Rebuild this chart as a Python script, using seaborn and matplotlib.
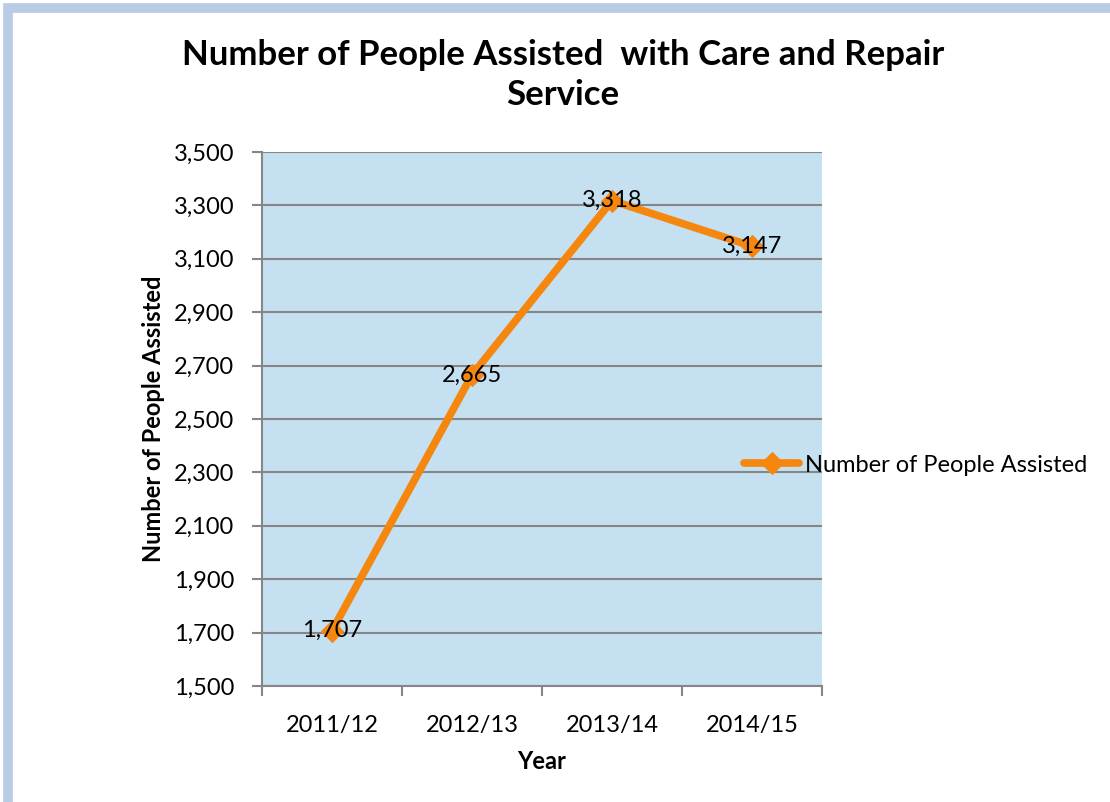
import matplotlib
matplotlib.use("Agg")
import matplotlib.pyplot as plt
import matplotlib.patches as patches
from matplotlib.ticker import FixedLocator, FuncFormatter
import seaborn as sns
import pandas as pd

years = ["2011/12", "2012/13", "2013/14", "2014/15"]
people = [1707, 2665, 3318, 3147]
series_name = "Number of People Assisted"
title = "Number of People Assisted  with Care and Repair\nService"
y_ticks = list(range(1500, 3501, 200))

sns.set_theme(style="white")
plt.rcParams["font.family"] = ["Lato", "DejaVu Sans"]
plt.rcParams["text.color"] = "black"
plt.rcParams["axes.labelcolor"] = "black"

df = pd.DataFrame({"Year": years, series_name: people})

fig = plt.figure(figsize=(11.10, 8.02), dpi=100)
ax = fig.add_axes([262/1110, 1-686/802, 560/1110, 534/802])
ax.set_facecolor("#C5E0F1")

orange = "#F5860E"
sns.lineplot(data=df, x="Year", y=series_name, ax=ax, color=orange, lw=5.5,
             marker="D", markersize=11, markeredgecolor=orange,
             label=series_name, zorder=3)

ax.set_xlim(-0.5, 3.5)
ax.set_ylim(1500, 3500)
ax.yaxis.set_major_locator(FixedLocator(y_ticks))
ax.yaxis.set_major_formatter(FuncFormatter(lambda v, p: f"{int(v):,}"))
ax.grid(axis="y", color="#868686", lw=1.5, zorder=1)
ax.set_axisbelow(True)

for s in ["top", "right"]:
    ax.spines[s].set_visible(False)
for s in ["left", "bottom"]:
    ax.spines[s].set_color("#868686")
    ax.spines[s].set_linewidth(1.5)

fs = 17
ax.set_xticks(range(len(years)))
ax.set_xticklabels(years)
ax.set_xticks([-0.5, 0.5, 1.5, 2.5, 3.5], minor=True)
ax.tick_params(axis="x", which="major", length=0, pad=21, labelsize=fs, labelcolor="black")
ax.tick_params(axis="x", which="minor", length=7, width=1.5, color="#868686", direction="out", bottom=True)
ax.tick_params(axis="y", which="major", length=7, width=1.5, color="#868686", direction="out",
               left=True, pad=13, labelsize=fs, labelcolor="black")

for i, v in enumerate(people):
    ax.text(i, v, f"{v:,}", ha="center", va="center", fontsize=fs, color="black", zorder=4)

ax.set_xlabel("Year", fontsize=fs, fontweight="bold", labelpad=10)
ax.set_ylabel(series_name, fontsize=fs, fontweight="bold", labelpad=6)

fig.text(563/1110, 1-75/802, title, ha="center", va="center", fontsize=25,
         fontweight="bold", linespacing=1.32)

leg = ax.legend(loc="center left", bbox_to_anchor=(735/1110, 1-465/802),
                bbox_transform=fig.transFigure, frameon=False, fontsize=fs,
                handlelength=2.3, handletextpad=0.25, borderaxespad=0)

fig.patches.append(patches.Rectangle((8/1110, -0.2), 2.0, 1-8/802+0.2,
                                     transform=fig.transFigure, fill=False,
                                     edgecolor="#B8CCE4", lw=7))

fig.savefig("out.png", dpi=100)
